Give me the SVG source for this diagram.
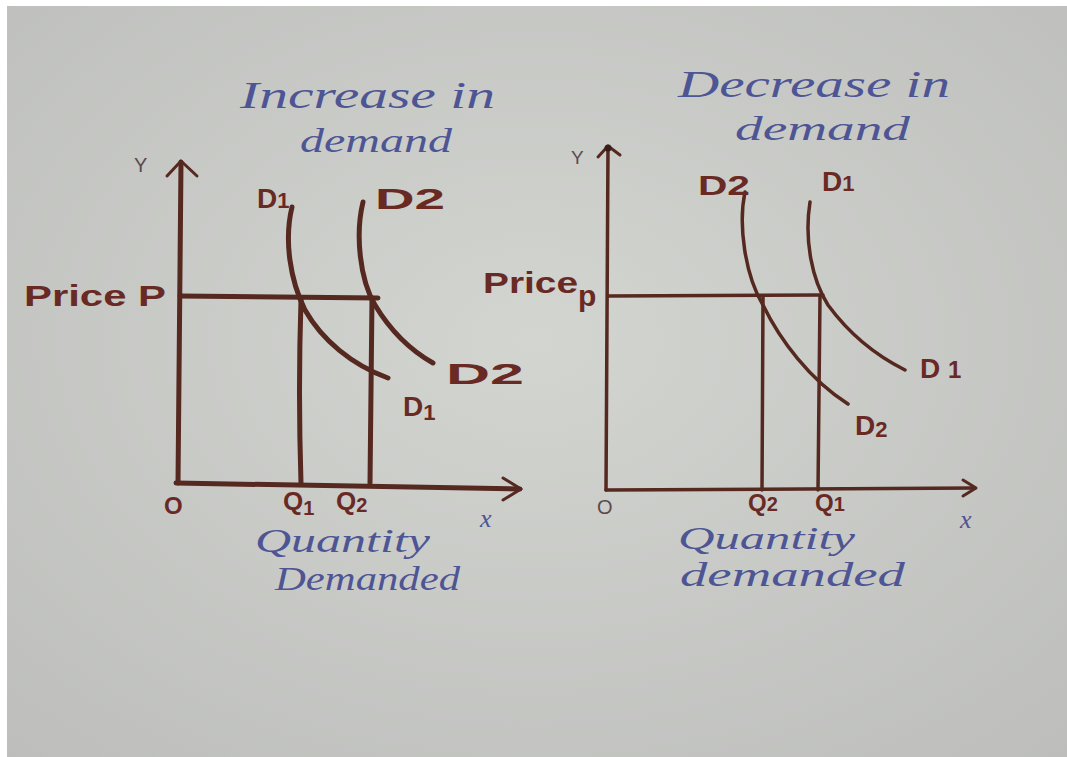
<svg xmlns="http://www.w3.org/2000/svg" width="1067" height="757" viewBox="0 0 1067 757">
<defs>
<radialGradient id="paper" cx="0.5" cy="0.45" r="0.75">
<stop offset="0" stop-color="#d3d5d1"/>
<stop offset="1" stop-color="#bdbebb"/>
</radialGradient>
<style>
.ln{fill:none;stroke:#552820;stroke-width:5;stroke-linecap:round;stroke-linejoin:round}
.thin{stroke-width:3.5}
.arr{fill:none;stroke:#552820;stroke-width:3;stroke-linecap:round;stroke-linejoin:round}
.lab{font-family:"Liberation Sans",Arial,sans-serif;font-weight:bold;fill:#6a2a24}
.pen{font-family:"Liberation Serif","Times New Roman",serif;font-style:italic;fill:#4e5594}
.ax{font-family:"Liberation Sans",Arial,sans-serif;fill:#5a4a50}
</style>
</defs>
<rect x="0" y="0" width="1067" height="757" fill="url(#paper)"/>
<rect x="0" y="0" width="1067" height="6" fill="#ffffff"/>
<rect x="0" y="0" width="7" height="757" fill="#ffffff"/>

<g id="left-title">
<text class="pen" x="240" y="108" font-size="38" textLength="255" lengthAdjust="spacingAndGlyphs">Increase in</text>
<text class="pen" x="300" y="152" font-size="34" textLength="152" lengthAdjust="spacingAndGlyphs">demand</text>
</g>
<g id="right-title">
<text class="pen" x="678" y="97" font-size="38" textLength="272" lengthAdjust="spacingAndGlyphs">Decrease in</text>
<text class="pen" x="735" y="140" font-size="34" textLength="175" lengthAdjust="spacingAndGlyphs">demand</text>
</g>

<g id="connectors">
<g id="left-lines">
<path class="ln" d="M178,483 L181,162"/>
<path class="arr" d="M167,176 L181,161 L197,176"/>
<path class="ln" d="M176,483 L520,489"/>
<path class="arr" d="M503,478 L521,489 L503,500"/>
<path class="ln" d="M180,296 L378,298" stroke-width="6"/>
<path class="ln" d="M301,300 Q298,390 301,483"/>
<path class="ln" d="M372,298 L370,483"/>
<path class="ln" d="M292,207 C284,240 290,280 305,310 C322,340 352,365 388,378"/>
<path class="ln" d="M363,202 C355,235 360,280 375,305 C390,330 410,350 433,363"/>
</g>
<g id="right-lines">
<path class="ln thin" d="M606,490 L608,147"/>
<path class="arr" d="M598,157 L608,146 L620,155"/>
<circle cx="608" cy="148" r="3.5" fill="#3a1c18"/>
<path class="ln thin" d="M606,490 L975,488"/>
<path class="arr" d="M963,480 L976,488 L963,496"/>
<path class="ln thin" d="M608,296 L823,295"/>
<path class="ln thin" d="M763,297 L762,490"/>
<path class="ln thin" d="M820,296 L818,490"/>
<path class="ln thin" d="M745,192 C738,225 745,275 763,305 C780,340 810,380 848,404"/>
<path class="ln thin" d="M810,202 C804,240 812,280 828,305 C850,335 875,355 905,370"/>
</g>
</g>

<g id="left-labels">
<text class="ax" x="134" y="172" font-size="20">Y</text>
<text class="lab" x="24" y="306" font-size="30" textLength="142" lengthAdjust="spacingAndGlyphs">Price P</text>
<text class="lab" x="257" y="208" font-size="28">D<tspan font-size="22">1</tspan></text>
<text class="lab" x="375" y="209" font-size="30" textLength="70" lengthAdjust="spacingAndGlyphs">D2</text>
<text class="lab" x="446" y="384" font-size="30" textLength="78" lengthAdjust="spacingAndGlyphs">D2</text>
<text class="lab" x="403" y="416" font-size="28">D<tspan font-size="22" dy="4">1</tspan></text>
<text class="lab" x="164" y="514" font-size="24">O</text>
<text class="lab" x="283" y="510" font-size="26">Q<tspan font-size="20" dy="5">1</tspan></text>
<text class="lab" x="336" y="510" font-size="26">Q<tspan font-size="20" dy="2">2</tspan></text>
<text class="pen" x="480" y="527" font-size="26">x</text>
<text class="pen" x="255" y="552" font-size="34" textLength="175" lengthAdjust="spacingAndGlyphs">Quantity</text>
<text class="pen" x="275" y="590" font-size="34" textLength="185" lengthAdjust="spacingAndGlyphs">Demanded</text>
</g>

<g id="right-labels">
<text class="ax" x="571" y="164" font-size="19">Y</text>
<text class="lab" x="483" y="293" font-size="30" textLength="95" lengthAdjust="spacingAndGlyphs">Price</text>
<text class="lab" x="578" y="306" font-size="30">p</text>
<text class="lab" x="698" y="195" font-size="28" textLength="52" lengthAdjust="spacingAndGlyphs">D2</text>
<text class="lab" x="822" y="191" font-size="28">D<tspan font-size="22">1</tspan></text>
<text class="lab" x="920" y="378" font-size="28">D <tspan font-size="24">1</tspan></text>
<text class="lab" x="855" y="435" font-size="28">D<tspan font-size="22" dy="2">2</tspan></text>
<text class="ax" x="597" y="514" font-size="20">O</text>
<text class="lab" x="748" y="511" font-size="24">Q<tspan font-size="20">2</tspan></text>
<text class="lab" x="815" y="511" font-size="24">Q<tspan font-size="20">1</tspan></text>
<text class="pen" x="960" y="528" font-size="26">x</text>
<text class="pen" x="678" y="549" font-size="32" textLength="177" lengthAdjust="spacingAndGlyphs">Quantity</text>
<text class="pen" x="680" y="586" font-size="34" textLength="225" lengthAdjust="spacingAndGlyphs">demanded</text>
</g>
</svg>
